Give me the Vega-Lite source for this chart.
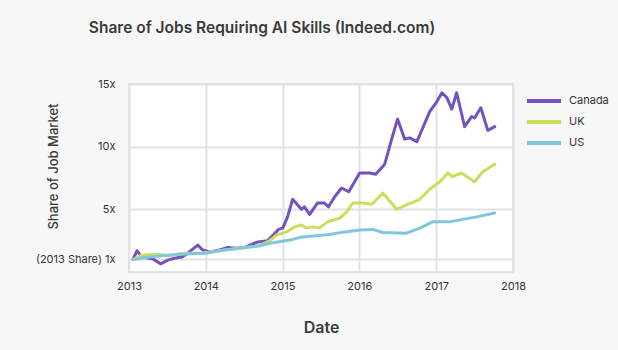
{
  "$schema": "https://vega.github.io/schema/vega-lite/v6.json",
  "width": 384,
  "height": 188,
  "autosize": "none",
  "padding": {"left": 129, "top": 84, "right": 105, "bottom": 78},
  "background": "#f7f7f7",
  "title": {
    "text": "Share of Jobs Requiring AI Skills (Indeed.com)",
    "anchor": "middle",
    "frame": "group",
    "dx": -59,
    "offset": 42,
    "font": "Inter",
    "fontSize": 15.5,
    "fontWeight": 600,
    "color": "#3a3a3a"
  },
  "config": {
    "view": {"fill": "white", "stroke": "#e2e2e2", "strokeWidth": 2},
    "font": "Inter"
  },
  "data": {
    "values": [
      {"date": "2013-01-20", "country": "Canada", "share": 1.0},
      {"date": "2013-02-08", "country": "Canada", "share": 1.7},
      {"date": "2013-03-02", "country": "Canada", "share": 1.2},
      {"date": "2013-04-23", "country": "Canada", "share": 1.05},
      {"date": "2013-06-01", "country": "Canada", "share": 0.65},
      {"date": "2013-07-04", "country": "Canada", "share": 0.95},
      {"date": "2013-08-06", "country": "Canada", "share": 1.1},
      {"date": "2013-09-10", "country": "Canada", "share": 1.2},
      {"date": "2013-10-07", "country": "Canada", "share": 1.5},
      {"date": "2013-11-24", "country": "Canada", "share": 2.15},
      {"date": "2013-12-18", "country": "Canada", "share": 1.75},
      {"date": "2014-01-20", "country": "Canada", "share": 1.6},
      {"date": "2014-03-06", "country": "Canada", "share": 1.75},
      {"date": "2014-04-15", "country": "Canada", "share": 1.95},
      {"date": "2014-05-22", "country": "Canada", "share": 1.9},
      {"date": "2014-07-04", "country": "Canada", "share": 1.95},
      {"date": "2014-08-07", "country": "Canada", "share": 2.2},
      {"date": "2014-09-06", "country": "Canada", "share": 2.4},
      {"date": "2014-10-22", "country": "Canada", "share": 2.5},
      {"date": "2014-11-15", "country": "Canada", "share": 2.9},
      {"date": "2014-12-13", "country": "Canada", "share": 3.4},
      {"date": "2015-01-02", "country": "Canada", "share": 3.5},
      {"date": "2015-01-25", "country": "Canada", "share": 4.4},
      {"date": "2015-02-18", "country": "Canada", "share": 5.8},
      {"date": "2015-04-01", "country": "Canada", "share": 5.0},
      {"date": "2015-04-15", "country": "Canada", "share": 5.2},
      {"date": "2015-05-10", "country": "Canada", "share": 4.6},
      {"date": "2015-06-16", "country": "Canada", "share": 5.5},
      {"date": "2015-07-19", "country": "Canada", "share": 5.5},
      {"date": "2015-08-08", "country": "Canada", "share": 5.2},
      {"date": "2015-09-06", "country": "Canada", "share": 6.0},
      {"date": "2015-10-09", "country": "Canada", "share": 6.7},
      {"date": "2015-11-12", "country": "Canada", "share": 6.4},
      {"date": "2016-01-03", "country": "Canada", "share": 7.9},
      {"date": "2016-02-20", "country": "Canada", "share": 7.9},
      {"date": "2016-03-19", "country": "Canada", "share": 7.8},
      {"date": "2016-05-01", "country": "Canada", "share": 8.6},
      {"date": "2016-06-03", "country": "Canada", "share": 10.6},
      {"date": "2016-07-01", "country": "Canada", "share": 12.2},
      {"date": "2016-08-04", "country": "Canada", "share": 10.6},
      {"date": "2016-08-28", "country": "Canada", "share": 10.7},
      {"date": "2016-10-01", "country": "Canada", "share": 10.4},
      {"date": "2016-12-01", "country": "Canada", "share": 12.8},
      {"date": "2017-01-04", "country": "Canada", "share": 13.6},
      {"date": "2017-01-28", "country": "Canada", "share": 14.3},
      {"date": "2017-02-21", "country": "Canada", "share": 13.9},
      {"date": "2017-03-16", "country": "Canada", "share": 13.0},
      {"date": "2017-04-08", "country": "Canada", "share": 14.3},
      {"date": "2017-05-16", "country": "Canada", "share": 11.6},
      {"date": "2017-06-18", "country": "Canada", "share": 12.4},
      {"date": "2017-07-03", "country": "Canada", "share": 12.3},
      {"date": "2017-08-01", "country": "Canada", "share": 13.1},
      {"date": "2017-09-03", "country": "Canada", "share": 11.3},
      {"date": "2017-10-06", "country": "Canada", "share": 11.6},
      {"date": "2013-01-20", "country": "UK", "share": 1.0},
      {"date": "2013-02-22", "country": "UK", "share": 1.3},
      {"date": "2013-04-09", "country": "UK", "share": 1.4},
      {"date": "2013-05-26", "country": "UK", "share": 1.4},
      {"date": "2013-07-13", "country": "UK", "share": 1.3},
      {"date": "2013-08-30", "country": "UK", "share": 1.45},
      {"date": "2013-10-16", "country": "UK", "share": 1.5},
      {"date": "2013-12-03", "country": "UK", "share": 1.5},
      {"date": "2014-01-20", "country": "UK", "share": 1.6},
      {"date": "2014-03-06", "country": "UK", "share": 1.7},
      {"date": "2014-04-25", "country": "UK", "share": 1.8},
      {"date": "2014-06-10", "country": "UK", "share": 1.9},
      {"date": "2014-07-28", "country": "UK", "share": 2.0},
      {"date": "2014-09-15", "country": "UK", "share": 2.1},
      {"date": "2014-11-01", "country": "UK", "share": 2.5},
      {"date": "2014-12-04", "country": "UK", "share": 2.95},
      {"date": "2015-01-21", "country": "UK", "share": 3.2},
      {"date": "2015-02-28", "country": "UK", "share": 3.6},
      {"date": "2015-04-01", "country": "UK", "share": 3.75},
      {"date": "2015-04-25", "country": "UK", "share": 3.5},
      {"date": "2015-05-23", "country": "UK", "share": 3.6},
      {"date": "2015-06-25", "country": "UK", "share": 3.5},
      {"date": "2015-08-03", "country": "UK", "share": 4.0},
      {"date": "2015-09-30", "country": "UK", "share": 4.3},
      {"date": "2015-11-02", "country": "UK", "share": 4.8},
      {"date": "2015-12-01", "country": "UK", "share": 5.5},
      {"date": "2016-01-18", "country": "UK", "share": 5.5},
      {"date": "2016-03-01", "country": "UK", "share": 5.4},
      {"date": "2016-04-22", "country": "UK", "share": 6.3},
      {"date": "2016-06-27", "country": "UK", "share": 5.0},
      {"date": "2016-08-18", "country": "UK", "share": 5.4},
      {"date": "2016-10-15", "country": "UK", "share": 5.8},
      {"date": "2016-12-01", "country": "UK", "share": 6.6},
      {"date": "2017-01-18", "country": "UK", "share": 7.2},
      {"date": "2017-02-25", "country": "UK", "share": 7.9},
      {"date": "2017-03-19", "country": "UK", "share": 7.6},
      {"date": "2017-05-01", "country": "UK", "share": 7.9},
      {"date": "2017-07-02", "country": "UK", "share": 7.2},
      {"date": "2017-08-10", "country": "UK", "share": 8.0},
      {"date": "2017-10-06", "country": "UK", "share": 8.6},
      {"date": "2013-01-20", "country": "US", "share": 1.0},
      {"date": "2013-04-09", "country": "US", "share": 1.2},
      {"date": "2013-07-13", "country": "US", "share": 1.35},
      {"date": "2013-10-16", "country": "US", "share": 1.45},
      {"date": "2014-01-01", "country": "US", "share": 1.5},
      {"date": "2014-04-01", "country": "US", "share": 1.75},
      {"date": "2014-07-04", "country": "US", "share": 1.95},
      {"date": "2014-09-15", "country": "US", "share": 2.1},
      {"date": "2014-11-01", "country": "US", "share": 2.3},
      {"date": "2015-02-05", "country": "US", "share": 2.55},
      {"date": "2015-04-06", "country": "US", "share": 2.8},
      {"date": "2015-08-13", "country": "US", "share": 3.0},
      {"date": "2015-10-23", "country": "US", "share": 3.2},
      {"date": "2016-01-03", "country": "US", "share": 3.35},
      {"date": "2016-03-04", "country": "US", "share": 3.4},
      {"date": "2016-04-22", "country": "US", "share": 3.15},
      {"date": "2016-08-13", "country": "US", "share": 3.1},
      {"date": "2016-10-15", "country": "US", "share": 3.5},
      {"date": "2016-12-15", "country": "US", "share": 4.0},
      {"date": "2017-03-06", "country": "US", "share": 4.0},
      {"date": "2017-05-06", "country": "US", "share": 4.2},
      {"date": "2017-07-12", "country": "US", "share": 4.4},
      {"date": "2017-10-06", "country": "US", "share": 4.7}
    ]
  },
  "mark": {"type": "line", "strokeWidth": 3, "strokeJoin": "round", "strokeCap": "round"},
  "encoding": {
    "x": {
      "field": "date",
      "type": "temporal",
      "scale": {"domain": ["2013-01-01T00:00:00", "2018-01-01T00:00:00"], "nice": false},
      "axis": {
        "title": "Date",
        "format": "%Y",
        "values": ["2013-01-01T00:00:00", "2014-01-01T00:00:00", "2015-01-01T00:00:00", "2016-01-01T00:00:00", "2017-01-01T00:00:00", "2018-01-01T00:00:00"],
        "domain": false,
        "ticks": false,
        "grid": true,
        "gridColor": "#e2e2e2",
        "gridWidth": 2,
        "labelFontSize": 11,
        "labelColor": "#333333",
        "labelPadding": 8,
        "labelFlush": false,
        "titleFontSize": 16,
        "titleFontWeight": 600,
        "titleColor": "#3a3a3a",
        "titlePadding": 28
      }
    },
    "y": {
      "field": "share",
      "type": "quantitative",
      "scale": {"domain": [0, 15], "nice": false, "zero": false},
      "axis": {
        "title": "Share of Job Market",
        "values": [1, 5, 10, 15],
        "labelExpr": "datum.value == 1 ? '(2013 Share) 1x' : datum.value + 'x'",
        "domain": false,
        "ticks": false,
        "grid": true,
        "gridColor": "#e2e2e2",
        "gridWidth": 2,
        "labelFontSize": 11,
        "labelColor": "#333333",
        "labelPadding": 14,
        "titleFontSize": 13,
        "titleFontWeight": 500,
        "titleColor": "#3a3a3a",
        "titleX": -76,
        "titleY": 82,
        "titleAngle": -90,
        "titleAlign": "center",
        "titleBaseline": "middle"
      }
    },
    "color": {
      "field": "country",
      "type": "nominal",
      "scale": {"domain": ["Canada", "UK", "US"], "range": ["#7452c0", "#cddc5b", "#80c6dc"]},
      "legend": {
        "title": null,
        "orient": "none",
        "legendX": 396,
        "legendY": 9,
        "symbolType": "stroke",
        "symbolSize": 1156,
        "symbolStrokeWidth": 4,
        "clipHeight": 16,
        "labelFontSize": 11,
        "labelColor": "#333333",
        "labelOffset": 6,
        "rowPadding": 5
      }
    }
  }
}
